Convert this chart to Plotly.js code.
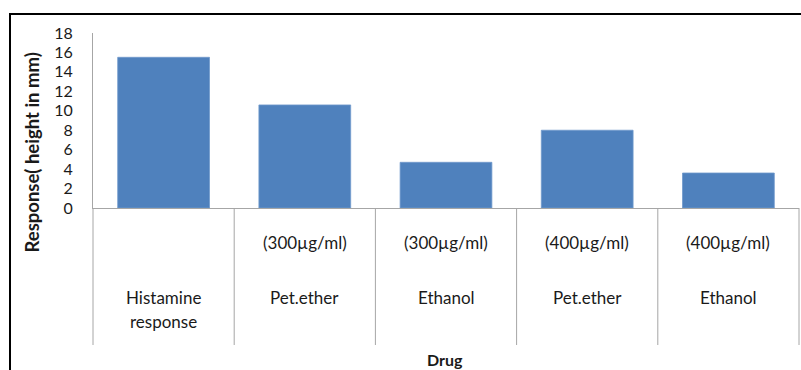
<!DOCTYPE html>
<html>
<head>
<meta charset="utf-8">
<script src="https://cdn.plot.ly/plotly-3.0.1.min.js"></script>
<style>
  html, body { margin: 0; padding: 0; background: #fff; }
  #wrap { position: relative; width: 801px; height: 370px; overflow: hidden; }
  #chart { width: 801px; height: 370px; }
  /* black frame round the chart area */
  #frame { position: absolute; left: 9px; top: 13px; right: -10px; bottom: -10px;
           border-left: 2px solid #000; border-top: 2px solid #000; pointer-events: none; }
</style>
</head>
<body>
<div id="wrap"><div id="chart"></div><div id="frame"></div></div>
<script>
// Drug groups: treatment name (one entry per line) and dose row
const drugLines = [['Histamine', 'response'], ['Pet.ether'], ['Ethanol'], ['Pet.ether'], ['Ethanol']];
const doses = ['', '(300µg/ml)', '(300µg/ml)', '(400µg/ml)', '(400µg/ml)'];
// Contraction height (mm)
const responses = [15.5, 10.6, 4.7, 8.0, 3.6];
const yTicks = [0, 2, 4, 6, 8, 10, 12, 14, 16, 18];
const yTitle = 'Response( height in mm)';
const xTitle = 'Drug';

const FONT = 'Lato, "Open Sans", sans-serif';
const TEXT = '#1a1a1a';
const GRID = '#a6a6a6';

const idx = responses.map((_, i) => i);
const n = responses.length;

const trace = {
  type: 'bar',
  x: idx,
  y: responses,
  marker: { color: '#4f81bd', line: { color: '#7099cc', width: 0.8 } },
  hoverinfo: 'none'
};

// category label table below the axis
const annotations = [];
doses.forEach((d, i) => {
  if (d) annotations.push({
    xref: 'x', yref: 'paper', x: i, y: 0, yanchor: 'middle', xanchor: 'center',
    yshift: -34, text: d, showarrow: false, font: { family: FONT, size: 17, color: TEXT }
  });
});
drugLines.forEach((lines, i) => {
  lines.forEach((t, j) => {
    annotations.push({
      xref: 'x', yref: 'paper', x: i, y: 0, yanchor: 'middle', xanchor: 'center',
      yshift: -89 - 24.5 * j, text: t, showarrow: false, font: { family: FONT, size: 17, color: TEXT }
    });
  });
});
// axis titles
annotations.push({
  xref: 'paper', yref: 'paper', x: 0, y: 0.5, xanchor: 'center', yanchor: 'middle',
  xshift: -62, yshift: -32, textangle: -90, text: '<b>' + yTitle + '</b>', showarrow: false,
  font: { family: FONT, size: 18.5, color: TEXT }
});
annotations.push({
  xref: 'paper', yref: 'paper', x: 0.5, y: 0, xanchor: 'center', yanchor: 'middle',
  xshift: -1, yshift: -151, text: '<b>' + xTitle + '</b>', showarrow: false,
  font: { family: FONT, size: 16, color: TEXT }
});

// vertical dividers between categories
const shapes = [];
for (let k = 0; k <= n; k++) {
  shapes.push({
    type: 'line', xref: 'paper', yref: 'paper', ysizemode: 'pixel', yanchor: 0,
    x0: k / n, x1: k / n, y0: 0, y1: -137,
    line: { color: GRID, width: 1 }
  });
}

const layout = {
  width: 801, height: 370,
  margin: { l: 93, r: 2, t: 33, b: 162 },
  paper_bgcolor: '#fff', plot_bgcolor: '#fff',
  showlegend: false,
  bargap: 0.35,
  xaxis: {
    range: [-0.5, n - 0.5], showticklabels: false, ticks: '', showgrid: false, zeroline: false,
    showline: true, linecolor: GRID, linewidth: 1, fixedrange: true
  },
  yaxis: {
    range: [0, 18], tickvals: yTicks, ticktext: yTicks.map(String), ticks: '',
    showgrid: false, zeroline: false, showline: true, linecolor: GRID, linewidth: 1,
    ticklabelstandoff: 16, tickfont: { family: FONT, size: 16, color: TEXT }, fixedrange: true
  },
  annotations: annotations,
  shapes: shapes
};

Plotly.newPlot('chart', [trace], layout, { staticPlot: true, displayModeBar: false });
</script>
</body>
</html>
